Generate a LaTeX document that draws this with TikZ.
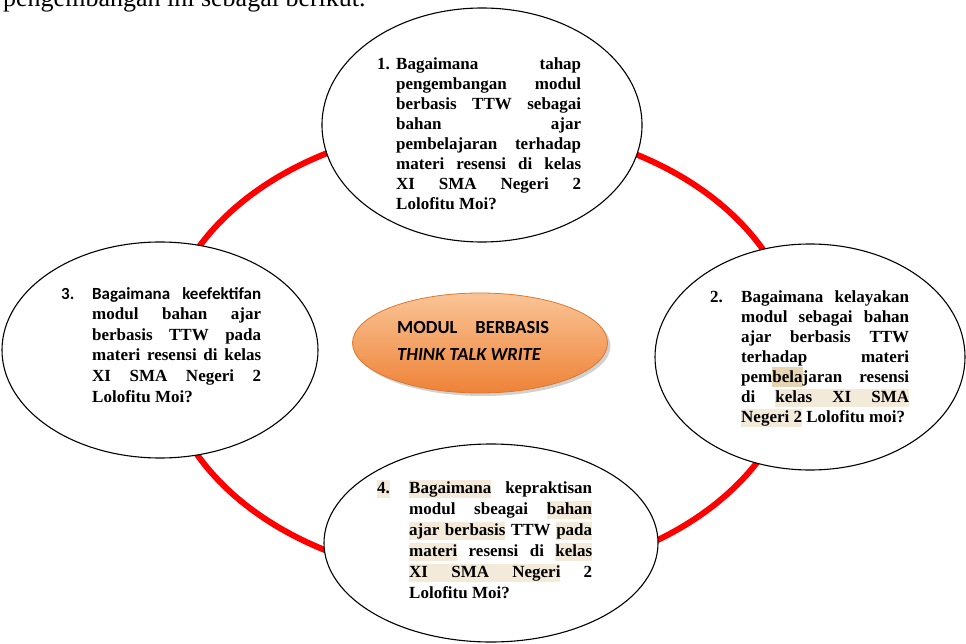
\documentclass[tikz,border=0pt]{standalone}
\usepackage{fontspec}
\setmainfont{Liberation Serif}
\newfontfamily\calib{Carlito}
\usetikzlibrary{shapes.geometric,shadows}
\definecolor{hlc}{RGB}{243,234,218}
\definecolor{hld}{RGB}{231,212,178}
\definecolor{ringred}{RGB}{255,0,0}
\definecolor{coretop}{RGB}{250,196,150}
\definecolor{corebot}{RGB}{238,130,55}
\definecolor{coreline}{RGB}{222,120,48}
\newlength\bw
\newcommand\hlstrut{\vrule height 13pt depth 4.5pt width 0pt\relax}
\newcommand\gp{\hskip 4pt plus 1fil\relax}
\newcommand\hgp{{\color{hlc}\leaders\vrule height 13pt depth 4.5pt\hskip 4pt plus 1fil}}
\newcommand\hw[1]{{\setlength\fboxsep{0pt}\colorbox{hlc}{\hlstrut #1}}}
\newcommand\hwd[1]{{\setlength\fboxsep{0pt}\colorbox{hld}{\vrule height 15pt depth 5pt width 0pt\relax #1}}}
\newcommand\jl[1]{\hbox to \bw{#1}}
\newcommand\nl[1]{\hbox{#1}}
\newcommand\qb[4]{\setlength\bw{#3}\makebox[#1][l]{#2}\parbox[t]{#3}{#4}}
\tikzset{
  qell/.style={ellipse, draw=black, line width=1.1pt, fill=white, inner sep=0pt},
  qtext/.style={anchor=base west, inner sep=0pt, font=\fontsize{17}{#1}\selectfont\bfseries},
  core/.style={ellipse, draw=coreline, line width=0.8pt, top color=coretop, bottom color=corebot,
    minimum width=255pt, minimum height=100pt, inner sep=0pt,
    drop shadow={shadow xshift=3pt, shadow yshift=-3pt, fill=black!40, opacity=0.45}},
  ring/.style={draw=ringred, line width=6pt}
}
\begin{document}
\begin{tikzpicture}[x=1pt,y=-1pt]
\useasboundingbox (0,0) rectangle (966,644);
% cut-off line of running text
\node[anchor=base west, inner sep=0pt, font=\fontsize{26}{30}\selectfont] (t0) at (3,7) {pengembangan ini sebagai berikut.};
% red ring
\draw[ring] (480,352) ellipse [x radius=317pt, y radius=227pt];
% ellipses
\node[qell, minimum width=320pt, minimum height=234pt] (q1) at (482,125) {};
\node[qell, minimum width=310pt, minimum height=226pt] (q2) at (810,357) {};
\node[qell, minimum width=316pt, minimum height=216pt] (q3) at (160,350) {};
\node[qell, minimum width=334pt, minimum height=198pt] (q4) at (491,543) {};
% center
\node[core] (c) at (480,343) {};
\node[anchor=base west, inner sep=0pt, font=\calib\bfseries\fontsize{18.5}{27}\selectfont] (ct) at (397,333)
  {\parbox[t]{180pt}{\raggedright MODUL\hspace{18pt}BERBASIS\\ \itshape THINK TALK WRITE}};
% texts
\node[qtext=20] (t1) at (377,70) {\qb{19pt}{1.}{185pt}{%
  \jl{Bagaimana\gp tahap}
  \jl{pengembangan\gp modul}
  \jl{berbasis\gp TTW\gp sebagai}
  \jl{bahan\gp ajar}
  \jl{pembelajaran\gp terhadap}
  \jl{materi\gp resensi\gp di\gp kelas}
  \jl{XI\gp SMA\gp Negeri\gp 2}
  \nl{Lolofitu Moi?}}};
\node[qtext=20] (t2) at (710,302) {\qb{31pt}{2.}{168pt}{%
  \jl{Bagaimana\gp kelayakan}
  \jl{modul\gp sebagai\gp bahan}
  \jl{ajar\gp berbasis\gp TTW}
  \jl{terhadap\gp materi}
  \jl{pem\hwd{bela}jaran\gp resensi}
  \jl{di\gp\hw{kelas}\hgp\hw{XI}\hgp\hw{SMA}}
  \nl{\hw{Negeri 2} Lolofitu moi?}}};
\node[qtext=20.6] (t3) at (61,299) {\qb{31pt}{\calib 3.}{169pt}{%
  \jl{\calib Bagaimana\gp keefektifan}
  \jl{modul\gp bahan\gp ajar}
  \jl{berbasis\gp TTW\gp pada}
  \jl{materi\gp resensi\gp di\gp kelas}
  \jl{XI\gp SMA\gp Negeri\gp 2}
  \nl{Lolofitu Moi?}}};
\node[qtext=21] (t4) at (377,493) {\qb{32pt}{\hw{4.}}{183pt}{%
  \jl{\hw{Bagaimana}\gp kepraktisan}
  \jl{modul\gp sbeagai\gp \hw{bahan}}
  \jl{\hw{ajar}\hgp\hw{berbasis}\gp TTW\gp \hw{pada}}
  \jl{\hw{materi}\gp resensi\gp di\gp \hw{kelas}}
  \jl{\hw{XI}\hgp\hw{SMA}\hgp\hw{Negeri}\gp 2}
  \nl{Lolofitu Moi?}}};
\end{tikzpicture}
\end{document}
